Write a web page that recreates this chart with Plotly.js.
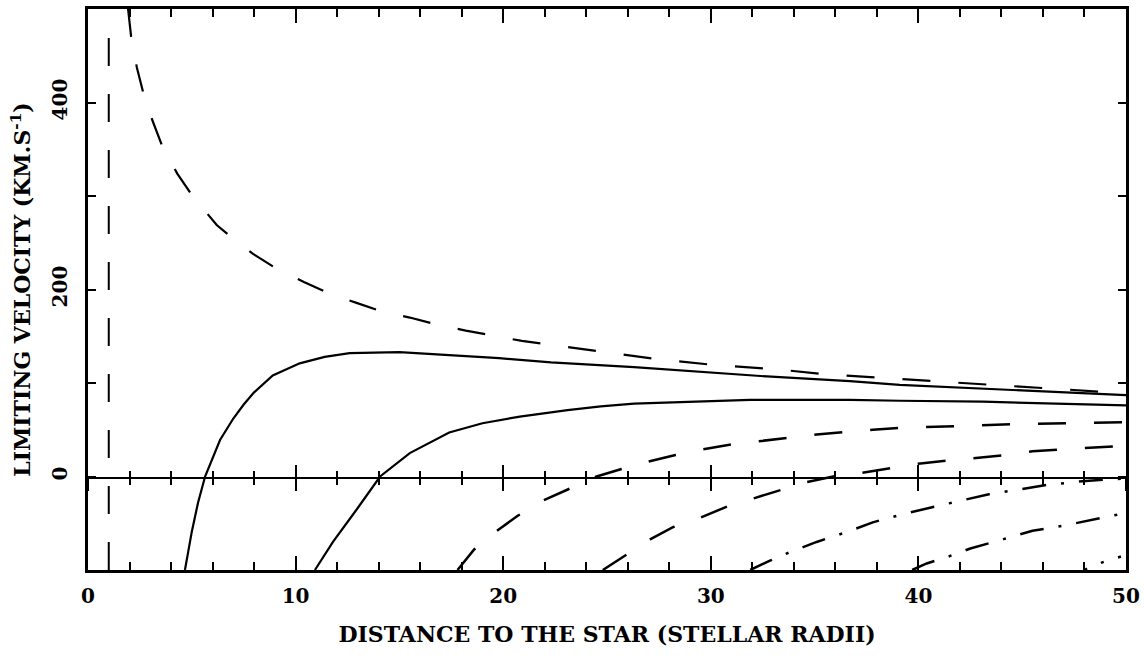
<!DOCTYPE html>
<html>
<head>
<meta charset="utf-8">
<script src="https://cdn.plot.ly/plotly-3.0.1.min.js"></script>
<style>html,body{margin:0;padding:0;background:#fff;}#chart{width:1145px;height:659px;}</style>
</head>
<body>
<div id="chart"></div>
<script>
const c1x = [1.93, 2.1, 2.36, 2.7, 3.1, 3.6, 4.3, 5.0, 6.2, 6.9, 7.95, 9.1, 10.4, 11.7, 12.9, 14.2, 15.5, 16.9, 18.2, 19.5, 20.9, 24.9, 27.6, 30.3, 33.0, 35.7, 38.5, 41.2, 43.9, 46.7, 50];
const c1y = [500, 466, 437, 407, 381, 352, 324, 301, 269, 256, 238, 222, 208, 195, 186, 176, 170, 162, 156, 151, 145, 133, 125, 119, 115, 109, 105, 101, 97, 93, 89];
const c2x = [1, 1];
const c2y = [-100, 475];
const s1x = [4.67, 5.0, 5.3, 5.64, 6.36, 7.0, 7.5, 8.0, 8.9, 10.2, 11.4, 12.6, 15.0, 17.4, 19.8, 22.3, 26.3, 32.7, 36.7, 39.1, 43.1, 50];
const s1y = [-100, -59, -28, 0, 39, 62, 77, 90, 108, 121, 128, 132, 133, 130, 126.5, 122, 117, 107, 102, 98, 94, 87];
const s2x = [10.93, 11.8, 12.95, 14.07, 15.5, 17.4, 19.0, 20.8, 23.1, 24.7, 26.3, 29.5, 31.9, 34.3, 36.7, 39.1, 43.1, 50];
const s2y = [-100, -70, -35, 0, 25, 47, 57, 64, 71, 75, 78, 80, 82, 82, 82, 81, 80, 76];
const d3x = [17.8, 18.6, 19.7, 20.7, 21.9, 23.2, 24.5, 25.7, 27.0, 28.3, 29.6, 30.9, 32.4, 33.7, 35.1, 37.8, 39.1, 41.9, 44.7, 47.4, 50];
const d3y = [-100, -78, -58, -42, -26, -13, 0, 8, 16, 23, 29, 34, 38, 41, 45, 50, 52, 54, 56, 57, 58];
const d4x = [24.8, 26.0, 27.1, 28.2, 29.5, 30.8, 32.0, 33.3, 34.6, 35.9, 37.3, 38.7, 40.1, 41.4, 42.8, 44.3, 45.5, 46.9, 48.4, 50];
const d4y = [-100, -83, -67, -54, -44, -32, -24, -15, -6, 0, 4, 9, 14, 17, 20, 23, 27, 29, 31, 33];
const e5x = [31.9, 32.85, 33.8, 35.1, 36.6, 37.8, 39.3, 40.6, 42.0, 43.4, 44.9, 46.2, 47.9, 50];
const e5y = [-100, -90, -81, -70, -59, -49, -40, -33, -26, -19, -14, -9, -5, -2];
const e6x = [39.7, 40.4, 41.4, 42.5, 44.1, 45.5, 46.9, 48.4, 50];
const e6y = [-100, -93, -86, -77, -67, -58, -53, -46, -39];
const f7x = [48.0, 48.3, 49.1, 50];
const f7y = [-100, -96, -90, -84];

const X_RANGE = [0, 50];
const Y_RANGE = [-100, 500];
const xTickVals = [0, 10, 20, 30, 40, 50];
const yTickVals = [0, 200, 400];

const curveLabels = ['(1)', '(2)', '1', '2', '4'];
const curveLabelX = [6.0, 1.0, 9.0, 21.0, 45.0];
const curveLabelY = [281, 156, 124, 76, 37];

const LABFONT = 'DejaVu Serif, serif';
const TICKFONT = {family: LABFONT, size: 20, color: '#000', weight: 'bold'};
const TITLEFONT = {family: LABFONT, size: 22, color: '#000', weight: 'bold'};

function tr(x, y, dash, width) {
  return {x: x, y: y, mode: 'lines', type: 'scatter', xaxis: 'x', yaxis: 'y',
    line: {color: '#000', width: width, dash: dash},
    showlegend: false};
}
function dummy(xa) {
  return {x: [null], y: [null], xaxis: xa, yaxis: 'y2', mode: 'lines', type: 'scatter', showlegend: false};
}

const data = [
  tr(c1x, c1y, '28px,28px', 2.2),
  tr(c2x, c2y, '28px,28px', 2.0),
  tr(s1x, s1y, 'solid', 2.2),
  tr(s2x, s2y, 'solid', 2.2),
  tr(d3x, d3y, '28px,28px', 2.5),
  tr(d4x, d4y, '28px,28px', 2.5),
  tr(e5x, e5y, '24px,15px,3px,15px', 2.5),
  tr(e6x, e6y, '24px,15px,3px,15px', 2.5),
  tr(f7x, f7y, '3px,15px', 2.5),
  dummy('x2'), dummy('x3')
];

const zeroAxis = (ticks) => ({
  range: X_RANGE, domain: [0, 1], anchor: 'y2', side: 'bottom',
  showline: true, linewidth: 2.5, linecolor: '#000', showgrid: false, zeroline: false,
  tickmode: 'array', tickvals: xTickVals, ticks: ticks, ticklen: 12, tickwidth: 2, tickcolor: '#000',
  minor: {dtick: 2, tick0: 0, ticklen: 6, tickwidth: 2, tickcolor: '#000', ticks: ticks, showgrid: false},
  showticklabels: false, fixedrange: true
});

const layout = {
  width: 1145, height: 659,
  margin: {l: 88, r: 19, t: 9, b: 89},
  paper_bgcolor: '#fff', plot_bgcolor: 'rgba(0,0,0,0)',
  showlegend: false,
  xaxis: {
    range: X_RANGE, domain: [0, 1], anchor: 'y', showgrid: false, zeroline: false,
    showline: true, linewidth: 3, linecolor: '#000', mirror: 'ticks',
    tickmode: 'array', tickvals: xTickVals, ticks: 'inside', ticklen: 14, tickwidth: 2, tickcolor: '#000',
    minor: {dtick: 2, tick0: 0, ticklen: 8, tickwidth: 2, tickcolor: '#000', ticks: 'inside', showgrid: false},
    tickfont: TICKFONT, ticklabelstandoff: 6,
    title: {text: 'DISTANCE TO THE STAR (STELLAR RADII)', font: TITLEFONT, standoff: 20},
    fixedrange: true
  },
  xaxis2: zeroAxis('inside'),
  xaxis3: zeroAxis('outside'),
  yaxis: {
    range: Y_RANGE, domain: [0, 1], anchor: 'x', showgrid: false, zeroline: false,
    showline: true, linewidth: 3, linecolor: '#000', mirror: 'ticks',
    ticks: 'inside', tickmode: 'array', tickvals: yTickVals, ticklen: 8, tickwidth: 2, tickcolor: '#000',
    minor: {dtick: 100, ticklen: 8, tickwidth: 2, tickcolor: '#000', ticks: 'inside', showgrid: false},
    tickfont: TICKFONT, tickangle: -90, ticklabelstandoff: 10,
    title: {text: 'LIMITING VELOCITY (KM.S<sup>-1</sup>)', font: TITLEFONT, standoff: 12},
    fixedrange: true
  },
  yaxis2: {domain: [1 / 6, 1], range: [0, 500], anchor: 'x2', visible: false, fixedrange: true}
};

Plotly.newPlot('chart', data, layout, {staticPlot: true});
</script>
</body>
</html>
